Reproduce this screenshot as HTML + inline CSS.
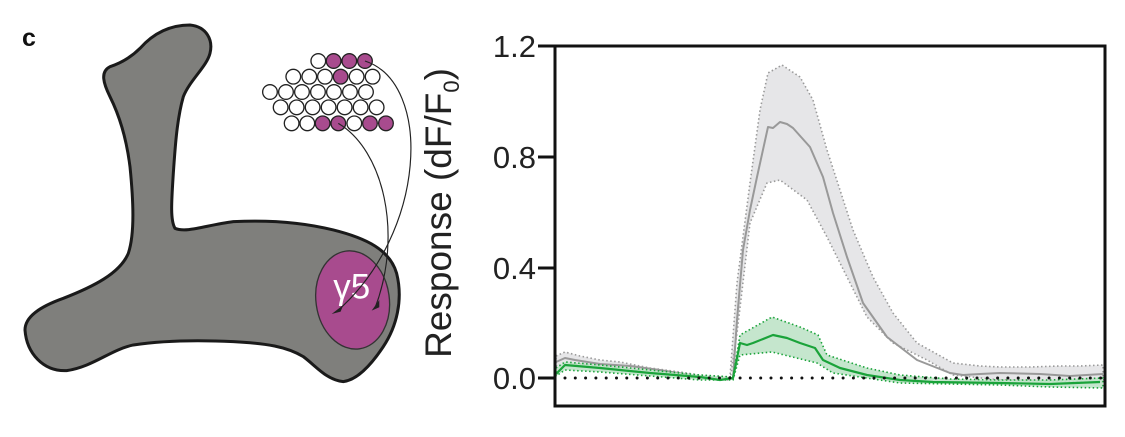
<!DOCTYPE html>
<html><head><meta charset="utf-8"><style>
html,body{margin:0;padding:0;background:#fff;}
svg{display:block;}
text{font-family:"Liberation Sans",sans-serif;}
</style></head><body>
<svg width="1125" height="437" viewBox="0 0 1125 437" xmlns="http://www.w3.org/2000/svg">
<text x="22" y="46" font-size="25" font-weight="bold" fill="#111">c</text>
<g transform="scale(0.3333)">
<path d="M330,200 C360,190 390,175 420,145 C460,100 510,75 570,75 C620,80 640,120 630,160 C620,200 570,240 550,290 C530,360 525,450 520,520 C515,600 510,660 525,685 C560,700 620,675 700,665 C800,660 900,665 1000,690 C1100,715 1170,750 1190,820 C1210,900 1190,980 1150,1040 C1110,1100 1070,1140 1030,1145 C980,1140 950,1100 910,1070 C860,1040 800,1030 700,1025 C600,1020 500,1020 400,1035 C330,1050 280,1100 200,1112 C130,1115 80,1060 75,990 C75,950 120,920 190,895 C280,860 360,820 385,760 C405,700 400,600 390,500 C380,420 360,350 330,290 C310,250 300,215 330,200 Z" fill="#7f7f7c" stroke="#1a1a1a" stroke-width="9"/>
<ellipse cx="1058" cy="900" rx="110" ry="148" transform="rotate(-8 1058 900)" fill="#a84b8e" stroke="#333" stroke-width="4"/>
<text x="1000" y="895" font-size="105" fill="#fff">γ5</text>
<g stroke="#222" stroke-width="4">
<circle cx="955" cy="183" r="22" fill="#fff"/><circle cx="1001" cy="183" r="22" fill="#a84b8e"/><circle cx="1048" cy="183" r="22" fill="#a84b8e"/><circle cx="1095" cy="183" r="22" fill="#a84b8e"/>
<circle cx="880" cy="230" r="22" fill="#fff"/><circle cx="928" cy="230" r="22" fill="#fff"/><circle cx="975" cy="230" r="22" fill="#fff"/><circle cx="1022" cy="230" r="22" fill="#a84b8e"/><circle cx="1070" cy="230" r="22" fill="#fff"/><circle cx="1118" cy="230" r="22" fill="#fff"/>
<circle cx="810" cy="276" r="22" fill="#fff"/><circle cx="858" cy="276" r="22" fill="#fff"/><circle cx="906" cy="276" r="22" fill="#fff"/><circle cx="954" cy="276" r="22" fill="#fff"/><circle cx="1002" cy="276" r="22" fill="#fff"/><circle cx="1050" cy="276" r="22" fill="#fff"/><circle cx="1098" cy="276" r="22" fill="#fff"/>
<circle cx="842" cy="322" r="22" fill="#fff"/><circle cx="890" cy="322" r="22" fill="#fff"/><circle cx="938" cy="322" r="22" fill="#fff"/><circle cx="986" cy="322" r="22" fill="#fff"/><circle cx="1034" cy="322" r="22" fill="#fff"/><circle cx="1082" cy="322" r="22" fill="#fff"/><circle cx="1130" cy="322" r="22" fill="#fff"/>
<circle cx="875" cy="370" r="22" fill="#fff"/><circle cx="922" cy="370" r="22" fill="#fff"/><circle cx="968" cy="370" r="22" fill="#a84b8e"/><circle cx="1015" cy="370" r="22" fill="#a84b8e"/><circle cx="1063" cy="370" r="22" fill="#fff"/><circle cx="1110" cy="370" r="22" fill="#a84b8e"/><circle cx="1158" cy="370" r="22" fill="#a84b8e"/>
</g>
<g fill="none" stroke="#222" stroke-width="3.5">
<path d="M1095,183 C1300,250 1280,700 1010,935"/>
<path d="M1015,370 C1150,450 1210,700 1125,925"/>
</g>
<path d="M995,942 L1030,915 L1022,935 Z M1115,932 L1138,900 L1138,922 Z" fill="#222"/>
</g>
<text transform="translate(451,213) rotate(-90)" font-size="37" text-anchor="middle" fill="#222">Response (dF/F<tspan font-size="22" dy="8">0</tspan><tspan dy="-8">)</tspan></text>
<g font-size="31" fill="#222" text-anchor="end">
<text x="536" y="57">1.2</text><text x="536" y="168">0.8</text><text x="536" y="279">0.4</text><text x="536" y="389">0.0</text>
</g>
<g stroke="#111" stroke-width="3">
<line x1="538" y1="46" x2="554" y2="46"/><line x1="538" y1="157" x2="554" y2="157"/><line x1="538" y1="268" x2="554" y2="268"/><line x1="538" y1="378" x2="554" y2="378"/>
</g>
<g stroke-linejoin="round">
<!-- gray band -->
<path d="M556,356 L565,352 L580,356 L600,360 L620,362 L650,368 L680,372 L705,376 L730,377 L737,283 L750,183 L760,110 L768,73 L782,65 L800,77 L813,100 L827,150 L840,190 L853,230 L873,277 L893,313 L917,343 L953,363 L980,366 L1000,367 L1030,367 L1060,366 L1080,366 L1103,365 L1103,382 L1060,381 L1000,380 L953,375 L927,360 L893,343 L867,317 L847,277 L827,237 L807,200 L780,180 L767,183 L750,223 L737,333 L730,380 L705,379 L680,376 L650,372 L620,368 L600,366 L580,364 L556,366 Z" fill="#e6e6e8" stroke="#9a9a9a" stroke-width="1.6" stroke-dasharray="1.5 2.5"/>
<path d="M556,362 L565,358 L575,360 L600,364 L630,366 L660,370 L690,375 L715,378 L733,378 L737,320 L743,250 L750,210 L757,177 L768,127 L773,128 L780,122 L787,124 L793,128 L810,147 L823,177 L833,213 L847,257 L863,303 L887,337 L917,360 L950,373 L963,375 L980,374 L1000,373 L1040,374 L1070,376 L1103,374" fill="none" stroke="#999" stroke-width="2"/>
<!-- green band -->
<path d="M556,368 L565,362 L600,365 L650,370 L700,375 L733,377 L740,335 L772,317 L800,327 L818,335 L827,355 L867,368 L900,375 L950,379 L1000,380 L1050,380 L1103,378 L1103,388 L1050,387 L1000,385 L900,383 L833,373 L817,363 L772,352 L740,355 L733,380 L700,380 L650,376 L600,372 L565,370 L556,376 Z" fill="#bfe3c8" fill-opacity="0.9" stroke="#1aa33a" stroke-width="1.6" stroke-dasharray="1.5 2.5"/>
<path d="M556,374 L565,365 L600,368 L650,373 L700,377 L720,380 L733,378 L740,343 L747,345 L753,343 L773,335 L787,338 L800,343 L815,348 L823,360 L840,368 L867,375 L900,380 L933,382 L1000,383 L1050,384 L1100,382" fill="none" stroke="#1aa33a" stroke-width="2.2"/>
</g>
<line x1="565" y1="378" x2="1103" y2="378" stroke="#111" stroke-width="3" stroke-dasharray="0 10.3" stroke-linecap="round"/>
<rect x="555" y="46" width="550" height="360" fill="none" stroke="#111" stroke-width="3"/>
</svg>
</body></html>
